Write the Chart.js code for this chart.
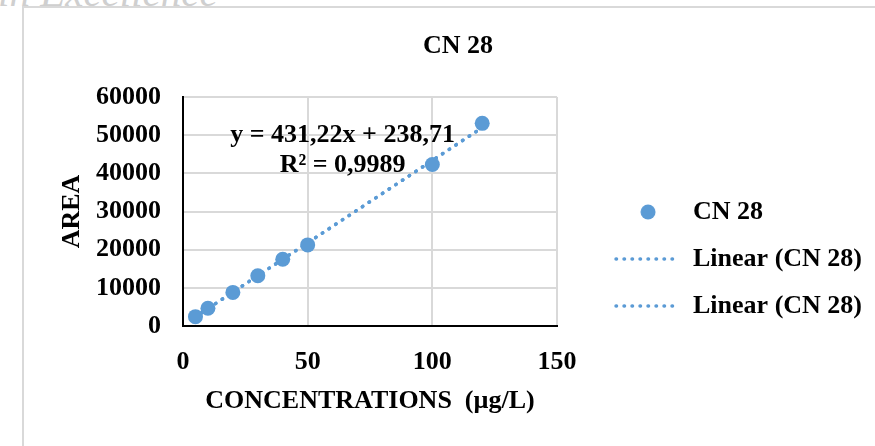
<!DOCTYPE html>
<html>
<head>
<meta charset="utf-8">
<title>CN 28</title>
<script src="https://cdn.jsdelivr.net/npm/chart.js@4/dist/chart.umd.min.js"></script>
<style>
  html, body { margin: 0; padding: 0; background: #fff; }
  body { width: 875px; height: 446px; overflow: hidden; position: relative; }
  .brand {
    position: absolute; left: -2px; top: -28px;
    font: italic 41px/41px 'Liberation Serif', 'Times New Roman', serif;
    color: #cfcfcf; white-space: nowrap;
  }
  .frame {
    position: absolute; left: 22px; top: 6px; width: 900px; height: 460px;
    border-top: 2px solid #d9d9d9; border-left: 2px solid #d9d9d9;
  }
  #chart { position: absolute; left: 0; top: 0; }
</style>
</head>
<body>
<div class="brand">in Excellence</div>
<div class="frame"></div>
<canvas id="chart" width="875" height="446"></canvas>
<script>
// Calibration data for CN 28
const concentrations = [5, 10, 20, 30, 40, 50, 100, 120];          // µg/L
const areaValues     = [2450, 4650, 8800, 13150, 17500, 21250, 42300, 53100];
const xTickValues    = [0, 50, 100, 150];
const yTickValues    = [0, 10000, 20000, 30000, 40000, 50000, 60000];

// Linear fit as reported on the chart
const SLOPE = 431.22;
const INTERCEPT = 238.71;
const R_SQUARED = 0.9989;

const seriesName = 'CN 28';
const trendName = 'Linear (CN 28)';
const xTitle = 'CONCENTRATIONS  (µg/L)';
const yTitle = 'AREA';

const BLUE = '#5b9bd5';
const GRID = '#d9d9d9';
const FONT_FAMILY = "'Liberation Serif', 'Times New Roman', serif";

const points = concentrations.map((c, i) => ({ x: c, y: areaValues[i] }));
const xMin = Math.min(...concentrations);
const xMax = Math.max(...concentrations);
const trendPoints = [xMin, xMax].map(c => ({ x: c, y: SLOPE * c + INTERCEPT }));

const comma = (v, d) => v.toFixed(d).replace('.', ',');
const equationLines = [
  'y = ' + comma(SLOPE, 2) + 'x + ' + comma(INTERCEPT, 2),
  'R² = ' + comma(R_SQUARED, 4)
];

// Round marker swatch for the legend
const markerSwatch = document.createElement('canvas');
markerSwatch.width = 16; markerSwatch.height = 16;
(() => {
  const g = markerSwatch.getContext('2d');
  g.fillStyle = BLUE;
  g.beginPath(); g.arc(8, 8, 7.5, 0, Math.PI * 2); g.fill();
})();

const DOTS = [0.5, 7.5];

// Writes the regression equation inside the plot area
const equationLabel = {
  id: 'equationLabel',
  afterDatasetsDraw(chart, args, opts) {
    const { ctx, scales } = chart;
    const px = scales.x.getPixelForValue(opts.x);
    const py = scales.y.getPixelForValue(opts.y);
    ctx.save();
    ctx.font = 'bold 26px ' + FONT_FAMILY;
    ctx.fillStyle = '#000';
    ctx.textAlign = 'center';
    ctx.textBaseline = 'middle';
    opts.lines.forEach((t, i) => ctx.fillText(t, px, py + i * opts.lineGap));
    ctx.restore();
  }
};

Chart.defaults.font.family = FONT_FAMILY;
Chart.defaults.font.size = 26;
Chart.defaults.font.weight = 'bold';
Chart.defaults.color = '#000';

const trendStyle = {
  showLine: true,
  borderColor: BLUE,
  borderWidth: 3.5,
  borderDash: DOTS,
  borderCapStyle: 'round',
  pointRadius: 0
};

new Chart(document.getElementById('chart'), {
  type: 'scatter',
  data: {
    datasets: [
      {
        label: seriesName,
        data: points,
        backgroundColor: BLUE,
        borderColor: BLUE,
        borderWidth: 0,
        pointRadius: 7.5,
        order: 0
      },
      Object.assign({ label: trendName, data: trendPoints, order: 1 }, trendStyle),
      Object.assign({ label: trendName, data: trendPoints, order: 2 }, trendStyle)
    ]
  },
  options: {
    responsive: false,
    animation: false,
    devicePixelRatio: 1,
    layout: { padding: { left: 44, right: 3, top: 0, bottom: 0 } },
    plugins: {
      title: {
        display: true,
        text: seriesName,
        font: { size: 26, weight: 'bold' },
        color: '#000',
        padding: { top: 30.4, bottom: 35.4 }
      },
      legend: {
        position: 'right',
        maxWidth: 320,
        title: { display: true, text: '', font: { size: 10 }, padding: { top: 60, bottom: 0 } },
        labels: {
          usePointStyle: true,
          pointStyleWidth: 64,
          padding: 21,
          font: { size: 26, weight: 'bold' },
          color: '#000',
          generateLabels(chart) {
            return chart.data.datasets.map((ds, i) => i === 0
              ? { text: ds.label, pointStyle: markerSwatch, fillStyle: BLUE, strokeStyle: BLUE,
                  lineWidth: 0, datasetIndex: i, fontColor: '#000' }
              : { text: ds.label, pointStyle: 'line', strokeStyle: BLUE, fillStyle: BLUE,
                  lineWidth: 3.5, lineDash: DOTS, lineCap: 'round', datasetIndex: i, fontColor: '#000' });
          }
        }
      },
      tooltip: { enabled: false },
      equationLabel: { x: 64, y: 50000, lineGap: 30, lines: equationLines }
    },
    scales: {
      x: {
        type: 'linear',
        position: 'bottom',
        min: xTickValues[0],
        max: xTickValues[xTickValues.length - 1],
        afterBuildTicks(s) { s.ticks = xTickValues.map(v => ({ value: v })); },
        ticks: { padding: 20.4, font: { size: 26, weight: 'bold' }, color: '#000' },
        grid: { color: GRID, lineWidth: 2, drawTicks: false },
        border: { color: '#000', width: 2 },
        title: { display: true, text: xTitle, font: { size: 26, weight: 'bold' }, color: '#000',
                 padding: { top: 0, bottom: 29.4 } },
        afterFit(s) { s.height = 120; }
      },
      y: {
        type: 'linear',
        position: 'left',
        min: yTickValues[0],
        max: yTickValues[yTickValues.length - 1],
        afterBuildTicks(s) { s.ticks = yTickValues.map(v => ({ value: v })); },
        ticks: { padding: 22, font: { size: 26, weight: 'bold' }, color: '#000',
                 callback: v => String(v) },
        grid: { color: GRID, lineWidth: 2, drawTicks: false },
        border: { color: '#000', width: 2 },
        title: { display: true, text: yTitle, font: { size: 26, weight: 'bold' }, color: '#000',
                 padding: { top: 12.4, bottom: 0 } },
        afterFit(s) { s.width = 139; }
      },
      gap: {
        type: 'linear',
        position: 'right',
        display: true,
        grid: { display: false },
        border: { display: false },
        ticks: { display: false },
        afterFit(s) { s.width = 38; }
      }
    }
  },
  plugins: [equationLabel]
});
</script>
</body>
</html>
